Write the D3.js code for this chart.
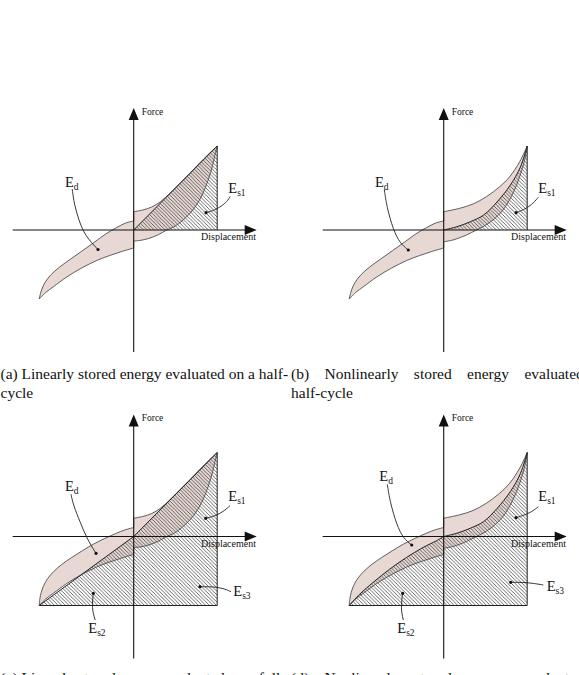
<!DOCTYPE html>
<html><head><meta charset="utf-8">
<script src="https://cdn.jsdelivr.net/npm/d3@7"></script>
<style>
body{margin:0;background:#fff}
svg{display:block}
text{font-family:"Liberation Serif","Times New Roman",serif;fill:#111}
</style>
</head><body>
<svg id="chart" width="579" height="675"></svg>
<script>
// ---------- data (displacement, force) in arbitrary units ----------
const peak = [83.5, 84];
const tip = [-94.5, -69];
const axisXRange = [-121, 123];
const axisYRange = [-122, 122];

// left upper branch of the loop (tip -> force axis)
const loopUpperLeftHalf = [[-94.5,-69],[-92.5,-61],[-89,-53],[-83,-45],[-74,-37],[-63,-29],[-51,-20.5],[-39,-12],[-28,-4],[-17,2.5],[-8,7],[0,9]];
const loopUpperLeftFull = [[-94.5,-69],[-93.8,-62],[-92.5,-56],[-90,-49],[-86,-42],[-80,-35],[-72,-28],[-62,-21],[-51,-14],[-40,-7.5],[-29,-2],[-18,3],[-9,6.5],[0,9]];
// left lower branch (force axis -> tip)
const loopLowerLeft = [[0,-18],[-12,-21.5],[-24,-25.5],[-37,-30.5],[-52,-38],[-67,-47],[-80,-56.5],[-88,-62.5],[-94.5,-69]];
// right branches, linear panels
const upperRightLin = [[0,18.3],[9,20],[18,23],[27,28.5],[36,36.5],[46,46.5],[56,56.5],[66,67],[75,76],[83.5,84]];
const lowerRightLin = [[83.5,84],[81.3,75],[79,65],[74.5,50],[68,34],[60,21],[50,10.5],[40,3],[33,0],[25,-4.5],[15,-8.5],[6,-10.5],[0,-11]];
// right branches, nonlinear panels
const upperRightNon = [[0,18.3],[16,21.7],[29.3,26],[42.7,33.3],[56,43.3],[66,53.3],[76,68.3],[83.5,84]];
const lowerRightNon = [[83.5,84],[81,70],[76,53.3],[69.3,36.7],[59.3,20],[49.3,10],[39.3,3.3],[32.7,0],[22.7,-5],[9.3,-10],[0,-11.7]];
// nonlinear storage curves
const nonlinRight = [[0,0],[13.3,3.3],[26.7,8.3],[40,15],[53.3,28],[66.7,45],[76.7,63],[83.5,84]];
const nonlinLeft = [[-94.5,-69],[-84,-57.7],[-70.7,-46],[-54,-32.7],[-37.3,-21],[-20.7,-11],[-7.3,-4.3],[0,0]];

const axisLabels = ["Displacement", "Force"];
const captionsTop = [["(a) Linearly stored energy evaluated on a half-", "cycle"], ["(b) Nonlinearly stored energy evaluated on a", "half-cycle"]];
const captionsBottom = [["(c) Linearly stored energy evaluated on a full-", ""], ["(d) Nonlinearly stored energy evaluated on a", ""]];

// annotations: label, subscript, label anchor, leader points (data units)
const annHalfA = [
  {t:"E", s:"d", at:[-68.7,43.3], lead:[[-61.5,41],[-59.5,26],[-55,10],[-48.5,-6],[-35.7,-19.5]]},
  {t:"E", s:"s1", at:[94.6,36.7], lead:[[96.5,33.5],[94.5,30],[89.5,25],[81.5,20],[72.3,17.3]]}
];
const annHalfB = [
  {t:"E", s:"d", at:[-68.7,43.3], lead:[[-59.4,40.7],[-57,23.3],[-50.4,0],[-43.7,-13.3],[-35.4,-20]]},
  {t:"E", s:"s1", at:[94.6,36.7], lead:[[94.6,32.7],[88,25],[79.6,20],[72.3,17.3]]}
];
const annFullC = [
  {t:"E", s:"d", at:[-68.7,45.5], lead:[[-62.7,42.2],[-60.4,31.5],[-53.7,14.8],[-47,-1.8],[-37.7,-16.8]]},
  {t:"E", s:"s1", at:[94.6,35.5], lead:[[96.3,30.8],[89.6,24.8],[81.3,20.5],[72,18.2]]},
  {t:"E", s:"s3", at:[99.6,-59.2], lead:[[97.3,-55.2],[89.6,-51.8],[79.6,-50.2],[66.3,-50.2]]},
  {t:"E", s:"s2", at:[-45.4,-96.2], lead:[[-38.5,-83.5],[-42,-71.8],[-40.4,-56.8]]}
];
const annFullD = [
  {t:"E", s:"d", at:[-64.4,55.5], lead:[[-56.4,52.2],[-53.7,34.8],[-47,11.5],[-40.4,-1.8],[-32,-8.5]]},
  {t:"E", s:"s1", at:[94.6,35.5], lead:[[94.6,29.8],[86.3,23.2],[72.3,18.8]]},
  {t:"E", s:"s3", at:[103,-54.5], lead:[[99.6,-48.5],[89.6,-46.8],[79.6,-45.8],[67,-45.8]]},
  {t:"E", s:"s2", at:[-46.4,-96.2], lead:[[-40.4,-83.5],[-43,-71.8],[-41,-56.8]]}
];

// ---------- drawing ----------
const svg = d3.select("#chart");
svg.append("rect").attr("width",579).attr("height",675).attr("fill","#fff");
const defs = svg.append("defs");
const hw = 3.6;
defs.append("pattern").attr("id","hatch").attr("patternUnits","userSpaceOnUse")
  .attr("width",hw).attr("height",hw)
  .append("path").attr("d",`M0,0L${hw},${hw}M-1,${hw-1}L1,${hw+1}M${hw-1},-1L${hw+1},1`)
  .attr("stroke","#2a2a2a").attr("stroke-width",0.7);

const PINK = "#e7d8d4";

const panels = [
  {ox:133.7, oy:230,   ul:loopUpperLeftHalf, ur:upperRightLin, lr:lowerRightLin, mode:"linHalf", ann:annHalfA},
  {ox:443.7, oy:230,   ul:loopUpperLeftHalf, ur:upperRightNon, lr:lowerRightNon, mode:"nonHalf", ann:annHalfB},
  {ox:133.7, oy:536.5, ul:loopUpperLeftFull, ur:upperRightLin, lr:lowerRightLin, mode:"linFull", ann:annFullC},
  {ox:443.7, oy:536.5, ul:loopUpperLeftFull, ur:upperRightNon, lr:lowerRightNon, mode:"nonFull", ann:annFullD}
];

function segPath(pts, sx, sy, curve){
  return d3.line().x(d=>sx(d[0])).y(d=>sy(d[1])).curve(curve || d3.curveCatmullRom.alpha(0.5))(pts);
}
function joinSegs(segs){ return segs.map((s,i)=> i===0 ? s : "L" + s.slice(1)).join(""); }

panels.forEach(p => {
  const sx = d3.scaleLinear().domain([-100,100]).range([p.ox-100, p.ox+100]);
  const sy = d3.scaleLinear().domain([-100,100]).range([p.oy+100, p.oy-100]);
  const g = svg.append("g");
  const lin = d3.curveLinear;

  // loop
  const loopD = joinSegs([
    segPath(p.ul, sx, sy), segPath(p.ur, sx, sy), segPath(p.lr, sx, sy), segPath(loopLowerLeft, sx, sy)
  ]) + "Z";
  g.append("path").attr("d", loopD).attr("fill", PINK).attr("stroke","none");

  // Displacement label (under hatch)
  g.append("text").attr("x", sx(67.3)).attr("y", sy(-10.3)).attr("font-size",10).text(axisLabels[0]);

  // stored energy region
  let regD, lines = [];
  const foot = [peak[0], 0];
  const corner = [peak[0], tip[1]];
  if (p.mode === "linHalf") {
    regD = segPath([[0,0], peak, foot], sx, sy, lin) + "Z";
    lines.push(segPath([[0,0], peak, foot], sx, sy, lin));
  } else if (p.mode === "nonHalf") {
    regD = joinSegs([segPath(nonlinRight, sx, sy), segPath([peak, foot], sx, sy, lin)]) + "Z";
    lines.push(segPath(nonlinRight, sx, sy));
    lines.push(segPath([peak, foot], sx, sy, lin));
  } else if (p.mode === "linFull") {
    regD = segPath([tip, [0,0], peak, corner], sx, sy, lin) + "Z";
    lines.push(segPath([tip, [0,0], peak, corner, tip], sx, sy, lin));
  } else {
    regD = joinSegs([segPath(nonlinLeft, sx, sy), segPath(nonlinRight, sx, sy), segPath([peak, corner, tip], sx, sy, lin)]) + "Z";
    lines.push(segPath(nonlinLeft, sx, sy));
    lines.push(segPath(nonlinRight, sx, sy));
    lines.push(segPath([peak, corner, tip], sx, sy, lin));
  }
  g.append("path").attr("d", regD).attr("fill","url(#hatch)");

  // loop outline
  g.append("path").attr("d", loopD).attr("fill","none").attr("stroke","#444").attr("stroke-width",0.85);
  lines.forEach(d => g.append("path").attr("d", d).attr("fill","none").attr("stroke","#222").attr("stroke-width",1));

  // axes
  const ax0 = sx(axisXRange[0]), ax1 = sx(axisXRange[1]);
  const ay0 = sy(axisYRange[0]), ay1 = sy(axisYRange[1]);
  g.append("line").attr("x1",ax0).attr("x2",ax1-8).attr("y1",sy(0)).attr("y2",sy(0)).attr("stroke","#111").attr("stroke-width",1.1);
  g.append("path").attr("d",`M${ax1},${sy(0)}L${ax1-12},${sy(0)-5}L${ax1-12},${sy(0)+5}Z`).attr("fill","#111");
  g.append("line").attr("x1",sx(0)).attr("x2",sx(0)).attr("y1",ay0).attr("y2",ay1+8).attr("stroke","#111").attr("stroke-width",1.1);
  g.append("path").attr("d",`M${sx(0)},${ay1}L${sx(0)-5},${ay1+12}L${sx(0)+5},${ay1+12}Z`).attr("fill","#111");
  g.append("text").attr("x", sx(8)).attr("y", sy(115.5)).attr("font-size",9.5).text(axisLabels[1]);

  // annotations
  p.ann.forEach(a => {
    g.append("path").attr("d", segPath(a.lead, sx, sy, d3.curveBasis)).attr("fill","none").attr("stroke","#222").attr("stroke-width",0.9);
    const end = a.lead[a.lead.length-1];
    g.append("circle").attr("cx", sx(end[0])).attr("cy", sy(end[1])).attr("r",1.6).attr("fill","#111");
    const t = g.append("text").attr("x", sx(a.at[0])).attr("y", sy(a.at[1])).attr("font-size",14.5);
    t.append("tspan").text(a.t);
    t.append("tspan").attr("font-size",9.5).attr("dy",3).text(a.s);
  });
});

// captions
const capX = [0.5, 291];
[[captionsTop, [378.5, 398]], [captionsBottom, [682.5, 702]]].forEach(([caps, ys]) => {
  caps.forEach((lines, i) => {
    lines.forEach((ln, j) => {
      if (!ln) return;
      svg.append("text").attr("x", capX[i]).attr("y", ys[j]).attr("font-size",15.5)
        .attr("word-spacing", (i===1 && j===0) ? 11.5 : 0).text(ln);
    });
  });
});
</script>
</body></html>
